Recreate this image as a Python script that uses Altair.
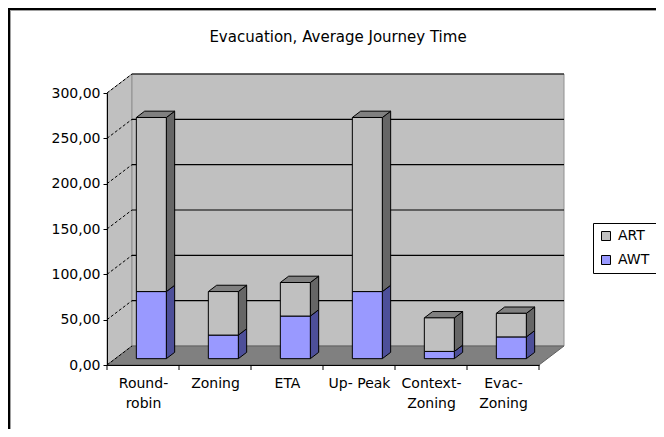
import altair as alt
import pandas as pd

# ---------------- data ----------------
categories = ["Round-robin", "Zoning", "ETA", "Up-Peak", "Context-Zoning", "Evac-Zoning"]
label_lines = [["Round-", "robin"], ["Zoning"], ["ETA"], ["Up- Peak"], ["Context-", "Zoning"], ["Evac-", "Zoning"]]
series_names = ["ART", "AWT"]
awt_values = [74, 26, 47, 74, 8, 24]
art_values = [192, 48, 37, 192, 37, 26]
y_tick_values = [0, 50, 100, 150, 200, 250, 300]
title_text = "Evacuation, Average Journey Time"

# ---------------- geometry / style ----------------
W, H = 432, 272
Y_MAX = 300
n = len(categories)
XMIN, XMAX = -0.5, n - 0.5
px_x = W / n
px_y = H / Y_MAX
DX = 25 / px_x          # depth of the 3-D box, x units
DY = 19 / px_y          # depth of the 3-D box, y units
bdx, bdy = DX / 3, DY / 3   # bars sit in the middle third of depth
HW = 15 / px_x          # half bar width
FONT = "DejaVu Sans"

front_colors = {"ART": "#C0C0C0", "AWT": "#9999FF"}
side_colors = {"ART": "#666666", "AWT": "#4D4F99"}
top_color = "#808080"

# ---------------- tables ----------------
front_rows, side_rows, top_rows = [], [], []
for i, cat in enumerate(categories):
    xl, xr = i + bdx - HW, i + bdx + HW
    base = bdy
    segs = [("AWT", base, base + awt_values[i]),
            ("ART", base + awt_values[i], base + awt_values[i] + art_values[i])]
    for s, lo, hi in segs:
        front_rows.append(dict(cat=cat, series=s, x=xl, x2=xr, y=lo, y2=hi))
        sid = f"{cat}-{s}"
        side_rows.append(dict(seg=sid, fill=side_colors[s], x=xr, y=lo, y2=hi))
        side_rows.append(dict(seg=sid, fill=side_colors[s], x=xr + bdx, y=lo + bdy, y2=hi + bdy))
    top = segs[-1][2]
    top_rows.append(dict(bar=cat, y=top, x=xl, x2=xr))
    top_rows.append(dict(bar=cat, y=top + bdy, x=xl + bdx, x2=xr + bdx))

front_df = pd.DataFrame(front_rows)
side_df = pd.DataFrame(side_rows)
top_df = pd.DataFrame(top_rows)

left_wall_df = pd.DataFrame([dict(x=XMIN, y=0, y2=Y_MAX), dict(x=XMIN + DX, y=DY, y2=Y_MAX + DY)])
back_wall_df = pd.DataFrame([dict(x=XMIN + DX, x2=XMAX + DX, y=DY, y2=Y_MAX + DY)])
floor_df = pd.DataFrame([dict(y=0, x=XMIN, x2=XMAX), dict(y=DY, x=XMIN + DX, x2=XMAX + DX)])
grid_df = pd.DataFrame([dict(x=XMIN + DX, x2=XMAX + DX, y=v + DY) for v in y_tick_values if v > 0])
diag_df = pd.DataFrame([dict(x=XMIN, x2=XMIN + DX, y=v, y2=v + DY) for v in y_tick_values])
xtick_df = pd.DataFrame({"x": [XMIN + k for k in range(n + 1)]})
one_df = pd.DataFrame({"t": [title_text]})

# ---------------- scales / axes ----------------
xs = alt.Scale(domain=[XMIN, XMAX], nice=False, zero=False)
ys = alt.Scale(domain=[0, Y_MAX], nice=False, zero=False)

label_js = "[" + ",".join("[" + ",".join("'" + s + "'" for s in lines) + "]" for lines in label_lines) + "][datum.value]"
x_axis = alt.Axis(values=list(range(n)), labelExpr=label_js, ticks=False, domain=True,
                  domainColor="black", domainWidth=1, grid=False, labelFont=FONT,
                  labelFontSize=14, labelColor="black", labelPadding=11, labelLineHeight=20,
                  labelOverlap=False, title=None, zindex=1)
y_axis = alt.Axis(values=y_tick_values, labelExpr="replace(format(datum.value, '.2f'), '.', ',')",
                  tickSize=4, tickColor="black", domainColor="black", grid=False,
                  labelFont=FONT, labelFontSize=14, labelColor="black", labelPadding=3,
                  title=None, zindex=1)


def X(f="x"):
    return alt.X(f + ":Q", scale=xs, axis=x_axis)


def Y(f="y"):
    return alt.Y(f + ":Q", scale=ys, axis=y_axis)


left_wall = alt.Chart(left_wall_df).mark_area(orient="vertical", fill="#C0C0C0", stroke="#909090", strokeWidth=1).encode(
    x=X(), y=Y(), y2="y2:Q")
back_wall = alt.Chart(back_wall_df).mark_rect(fill="#C0C0C0", stroke="#909090", strokeWidth=1).encode(
    x=X(), x2="x2:Q", y=Y(), y2="y2:Q")
floor = alt.Chart(floor_df).mark_area(orient="horizontal", fill="#808080", stroke="#606060", strokeWidth=1).encode(
    y=Y(), x=X(), x2="x2:Q")
grid = alt.Chart(grid_df).mark_rule(color="black", strokeWidth=1.2).encode(x=X(), x2="x2:Q", y=Y())
diag = alt.Chart(diag_df).mark_rule(color="black", strokeWidth=1, strokeDash=[3, 2]).encode(
    x=X(), x2="x2:Q", y=Y(), y2="y2:Q")

side = alt.Chart(side_df).mark_area(orient="vertical", stroke="black", strokeWidth=1).encode(
    x=X(), y=Y(), y2="y2:Q", detail="seg:N", fill=alt.Fill("fill:N", scale=None))
top = alt.Chart(top_df).mark_area(orient="horizontal", fill=top_color, stroke="black", strokeWidth=1).encode(
    y=Y(), x=X(), x2="x2:Q", detail="bar:N")
front = alt.Chart(front_df).mark_rect(stroke="black", strokeWidth=1).encode(
    x=X(), x2="x2:Q", y=Y(), y2="y2:Q",
    fill=alt.Fill("series:N",
                  scale=alt.Scale(domain=series_names, range=[front_colors[s] for s in series_names]),
                  legend=alt.Legend(orient="none", legendX=486, legendY=130, title=None,
                                    strokeColor="black", fillColor="white", padding=6,
                                    symbolType="square", symbolSize=81, symbolStrokeColor="black",
                                    symbolStrokeWidth=1, labelFont=FONT, labelFontSize=14,
                                    labelColor="black", rowPadding=10, labelOffset=5)))

xticks = alt.Chart(xtick_df).mark_rule(color="black", strokeWidth=1).encode(
    x=X(), y=alt.value(H), y2=alt.value(H + 5))

title = alt.Chart(one_df).mark_text(font=FONT, fontSize=15, color="black", align="center", baseline="middle").encode(
    text="t:N", x=alt.value(231), y=alt.value(-56))

frame_top = alt.Chart(one_df).mark_rule(color="black", strokeWidth=2).encode(
    x=alt.value(-99), x2=alt.value(560), y=alt.value(-84))
frame_left = alt.Chart(one_df).mark_rule(color="black", strokeWidth=2).encode(
    x=alt.value(-98), y=alt.value(-85), y2=alt.value(340))
frame_top2 = alt.Chart(one_df).mark_rule(color="#A0A0A0", strokeWidth=1).encode(
    x=alt.value(-97), x2=alt.value(560), y=alt.value(-82.5))
frame_left2 = alt.Chart(one_df).mark_rule(color="#A0A0A0", strokeWidth=1).encode(
    x=alt.value(-96.5), y=alt.value(-83), y2=alt.value(340))

chart = alt.layer(
    left_wall, back_wall, floor, grid, diag, side, top, front, xticks, title,
    frame_top, frame_left, frame_top2, frame_left2
).properties(
    width=W, height=H, autosize="none",
    padding={"left": 99, "top": 85, "right": 117, "bottom": 64},
    background="white",
).configure_view(stroke=None)

chart.save("out.html", embed_options={"renderer": "svg", "actions": False})
